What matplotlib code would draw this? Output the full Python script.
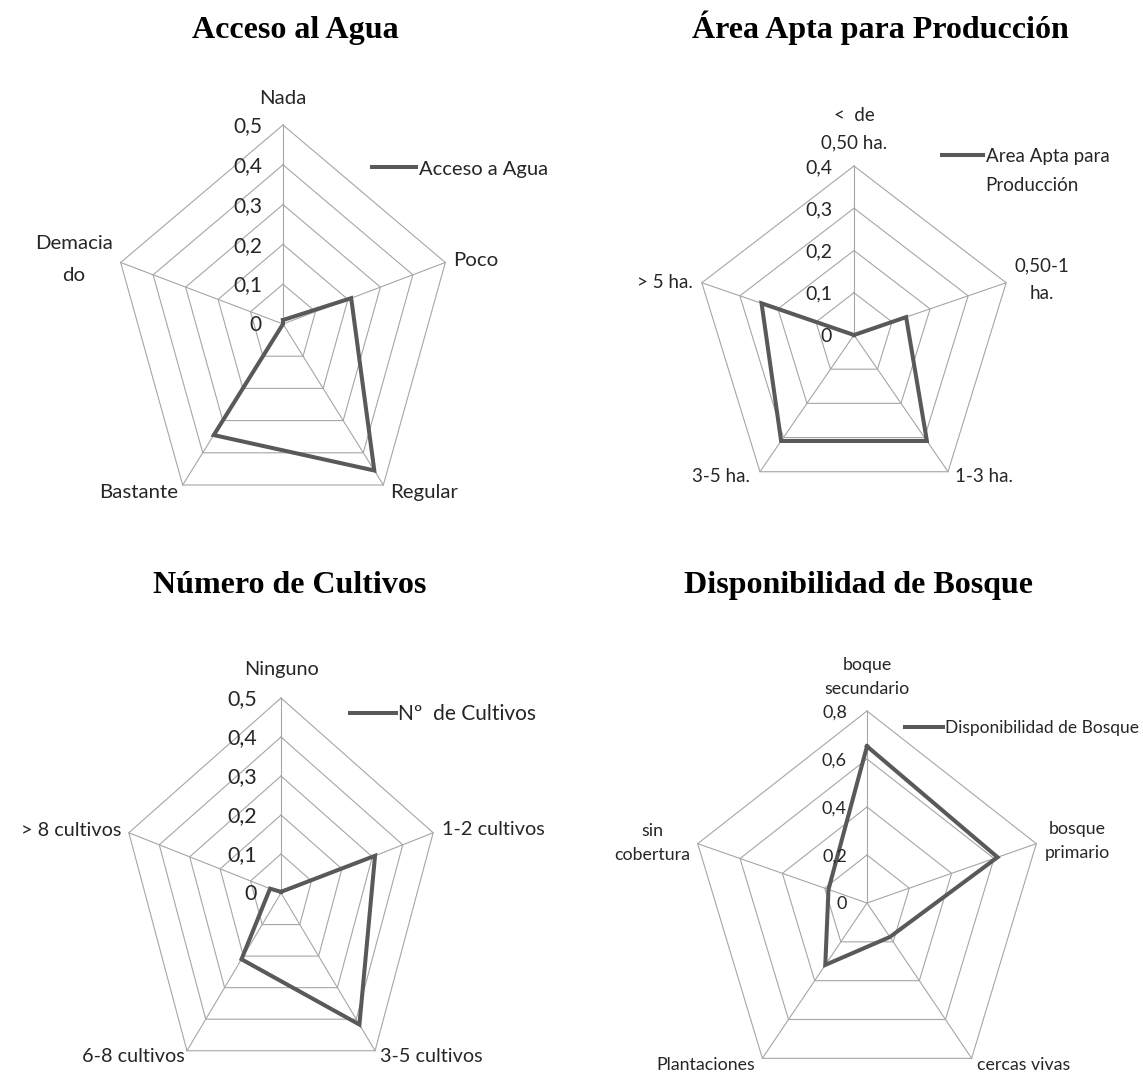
import numpy as np
import matplotlib.pyplot as plt

plt.rcParams['font.family'] = ['Lato', 'DejaVu Sans']

W, H = 1143, 1074
LINE = '#595959'
GRID = '#a6a6a6'

# --- data -------------------------------------------------------------
agua_cats = ['Nada', 'Poco', 'Regular', 'Bastante', 'Demacia\ndo']
agua_vals = [0.01, 0.21, 0.455, 0.345, 0.0]
agua_ticks = [0, 0.1, 0.2, 0.3, 0.4, 0.5]
agua_ticklabels = ['0', '0,1', '0,2', '0,3', '0,4', '0,5']

area_cats = ['<  de\n0,50 ha.', '0,50-1\nha.', '1-3 ha.', '3-5 ha.', '> 5 ha.']
area_vals = [0.0, 0.137, 0.31, 0.31, 0.243]
area_ticks = [0, 0.1, 0.2, 0.3, 0.4]
area_ticklabels = ['0', '0,1', '0,2', '0,3', '0,4']

cult_cats = ['Ninguno', '1-2 cultivos', '3-5 cultivos', '6-8 cultivos', '> 8 cultivos']
cult_vals = [0.003, 0.309, 0.417, 0.21, 0.036]
cult_ticks = [0, 0.1, 0.2, 0.3, 0.4, 0.5]
cult_ticklabels = ['0', '0,1', '0,2', '0,3', '0,4', '0,5']

bosque_cats = ['boque\nsecundario', 'bosque\nprimario', 'cercas vivas', 'Plantaciones', 'sin\ncobertura']
bosque_vals = [0.653, 0.617, 0.175, 0.319, 0.182]
bosque_ticks = [0, 0.2, 0.4, 0.6, 0.8]
bosque_ticklabels = ['0', '0,2', '0,4', '0,6', '0,8']


def px(x, y):
    return x / W, 1 - y / H


def radar(fig, center, rpx, cats, vals, ticks, ticklabels, legend_label,
          legend_at, label_specs, fs_tick, fs_cat, fs_leg, tick_dx,
          line_gap=28, leg_spacing=0.6):
    cx, cy = center
    rx, ry = rpx
    rmax = ticks[-1]
    k = 1.08
    left, bottom = px(cx - rx * k, cy + ry * k)
    ax = fig.add_axes([left, bottom, 2 * rx * k / W, 2 * ry * k / H])
    ax.set_xlim(-rmax * k, rmax * k)
    ax.set_ylim(-rmax * k, rmax * k)
    ax.axis('off')

    n = len(cats)
    ang = np.pi / 2 - 2 * np.pi * np.arange(n) / n
    ca, sa = np.cos(ang), np.sin(ang)

    for t in ticks[1:]:
        ax.plot(np.append(t * ca, t * ca[0]), np.append(t * sa, t * sa[0]),
                color=GRID, lw=0.8, zorder=1, clip_on=False)
    for i in range(n):
        ax.plot([0, rmax * ca[i]], [0, rmax * sa[i]], color=GRID, lw=0.8,
                zorder=1, clip_on=False)

    v = np.array(vals)
    ax.plot(np.append(v * ca, v[0] * ca[0]), np.append(v * sa, v[0] * sa[0]),
            color=LINE, lw=2.9, zorder=3, solid_joinstyle='miter', clip_on=False)

    for t, lab in zip(ticks, ticklabels):
        ax.annotate(lab, (0, t), xytext=(-tick_dx * 0.72, -1), textcoords='offset points',
                    ha='right', va='center', fontsize=fs_tick, color='#262626')

    ls = line_gap / (0.93 * fs_cat * 100 / 72)
    for i, (lab, spec) in enumerate(zip(cats, label_specs)):
        dx, dy, ha = spec
        ax.annotate(lab, (rmax * ca[i], rmax * sa[i]), xytext=(dx * 0.72, dy * 0.72),
                    textcoords='offset points', ha=ha, va='center',
                    multialignment='center' if ha == 'center' else ha,
                    fontsize=fs_cat, color='#262626', linespacing=ls)

    labels = legend_label.split('\n')
    ax.plot([], [], color=LINE, lw=2.9, label=labels[0])
    for extra in labels[1:]:
        ax.plot([], [], color='none', label=extra)
    leg = ax.legend(loc='center left', bbox_to_anchor=px(*legend_at),
                    bbox_transform=fig.transFigure, frameon=False, fontsize=fs_leg,
                    handlelength=2.2, handletextpad=0.12, borderpad=0,
                    borderaxespad=0, labelspacing=leg_spacing)
    for t in leg.get_texts():
        t.set_color('#262626')
    return ax


fig = plt.figure(figsize=(W / 100, H / 100), dpi=100)

radar(fig, (283, 324), (170.7, 199), agua_cats, agua_vals, agua_ticks, agua_ticklabels,
      'Acceso a Agua', (372, 169),
      [(0, 26, 'center'), (8, 2, 'left'), (7, -8, 'left'), (-5, -8, 'right'),
       (-47, 3, 'center')],
      15, 14.7, 14.5, 21, line_gap=38)

radar(fig, (854, 335), (160, 169), area_cats, area_vals, area_ticks, area_ticklabels,
      'Area Apta para\nProducción', (942, 171),
      [(0, 37, 'center'), (36, 3, 'center'), (7, -5, 'left'), (-10, -5, 'right'),
       (-9, 0, 'right')],
      14, 13.5, 13.5, 22, line_gap=31, leg_spacing=0.64)

radar(fig, (281, 893), (160, 195), cult_cats, cult_vals, cult_ticks, cult_ticklabels,
      'Nº  de Cultivos', (350, 714),
      [(0, 28, 'center'), (9, 3, 'left'), (5, -6, 'left'), (-2, -6, 'right'),
       (-7, 2, 'right')],
      15.5, 14.3, 15, 24)

radar(fig, (867, 903), (178, 192), bosque_cats, bosque_vals, bosque_ticks, bosque_ticklabels,
      'Disponibilidad de Bosque', (905, 728),
      [(0, 34, 'center'), (41, 3, 'center'), (5, -7, 'left'), (-7, -7, 'right'),
       (-45, 1, 'center')],
      13, 12.8, 12.5, 20, line_gap=27)

title_kw = dict(family='Liberation Serif', weight='bold', fontsize=23,
                ha='center', va='baseline')
fig.text(*px(295, 38), 'Acceso al Agua', **title_kw)
fig.text(*px(880, 38), 'Área Apta para Producción', **title_kw)
fig.text(*px(290, 593), 'Número de Cultivos', **title_kw)
fig.text(*px(859, 593), 'Disponibilidad de Bosque', **title_kw)

fig.savefig('out.png', dpi=100, facecolor='white')
